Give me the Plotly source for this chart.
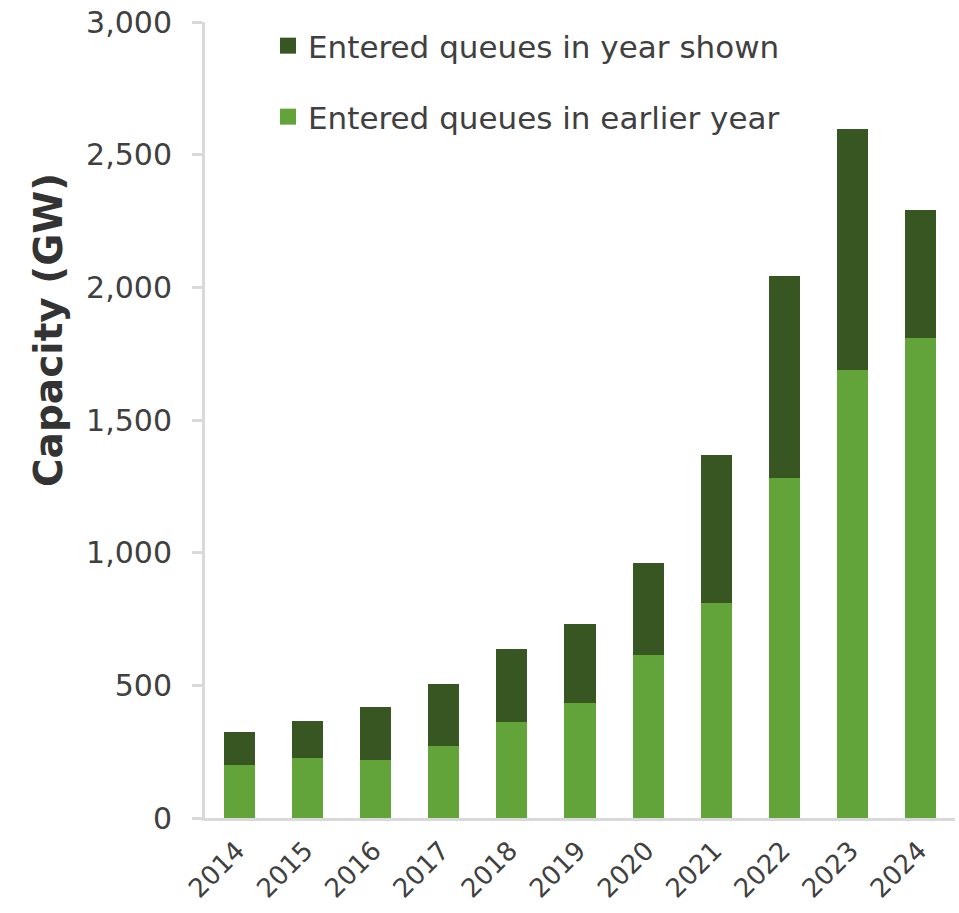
import plotly.graph_objects as go

# Interconnection queue capacity by year (GW)
years = ["2014", "2015", "2016", "2017", "2018", "2019", "2020", "2021", "2022", "2023", "2024"]
earlier_year = [198, 228, 218, 270, 361, 434, 614, 810, 1283, 1689, 1808]
year_shown = [125, 136, 202, 236, 277, 299, 347, 558, 759, 909, 483]

LIGHT = "#62A43A"
DARK = "#375621"
TEXT = "#404040"
AXIS = "#D9D9D9"
FONT = "DejaVu Sans"

fig = go.Figure()
fig.add_trace(go.Bar(x=years, y=earlier_year, name="Entered queues in earlier year",
                     marker=dict(color=LIGHT, line=dict(width=0)), showlegend=False))
fig.add_trace(go.Bar(x=years, y=year_shown, name="Entered queues in year shown",
                     marker=dict(color=DARK, line=dict(width=0)), showlegend=False))

# legend swatches as square markers, one legend per entry for the wide spacing
fig.add_trace(go.Scatter(x=[None], y=[None], mode="markers", name="Entered queues in year shown",
                         marker=dict(symbol="square", size=18, color=DARK), legend="legend"))
fig.add_trace(go.Scatter(x=[None], y=[None], mode="markers", name="Entered queues in earlier year",
                         marker=dict(symbol="square", size=18, color=LIGHT), legend="legend2"))

legend_common = dict(xanchor="left", yanchor="middle", bgcolor="rgba(0,0,0,0)",
                     font=dict(family=FONT, size=31, color=TEXT), itemsizing="trace")

fig.update_layout(
    width=959, height=913,
    margin=dict(l=205, r=4, t=22, b=95),
    paper_bgcolor="white", plot_bgcolor="white",
    barmode="stack", bargap=0.545,
    font=dict(family=FONT, color=TEXT),
    legend=dict(x=(268 - 205) / 750, y=(818 - 46) / 796, **legend_common),
    legend2=dict(x=(268 - 205) / 750, y=(818 - 117) / 796, **legend_common),
    xaxis=dict(type="category", showline=True, linecolor=AXIS, linewidth=3,
               ticks="", tickangle=-45, tickfont=dict(family=FONT, size=26, color=TEXT),
               ticklabelshift=-2, ticklabelstandoff=4, showgrid=False, automargin=False),
    yaxis=dict(range=[0, 3000], dtick=500, tickformat=",", showline=True, linecolor=AXIS,
               linewidth=3, ticks="outside", ticklen=10, tickwidth=3, tickcolor=AXIS,
               ticklabelstandoff=14, showgrid=False, zeroline=False, automargin=False,
               tickfont=dict(family=FONT, size=30, color=TEXT)),
    annotations=[dict(text="<b>Capacity (GW)</b>", textangle=-90, showarrow=False,
                      xref="paper", yref="paper", x=(48 - 205) / 750, y=(818 - 330) / 796,
                      xanchor="center", yanchor="middle",
                      font=dict(family=FONT, size=39, color="#333333"))],
)

fig.write_html("out.html")
